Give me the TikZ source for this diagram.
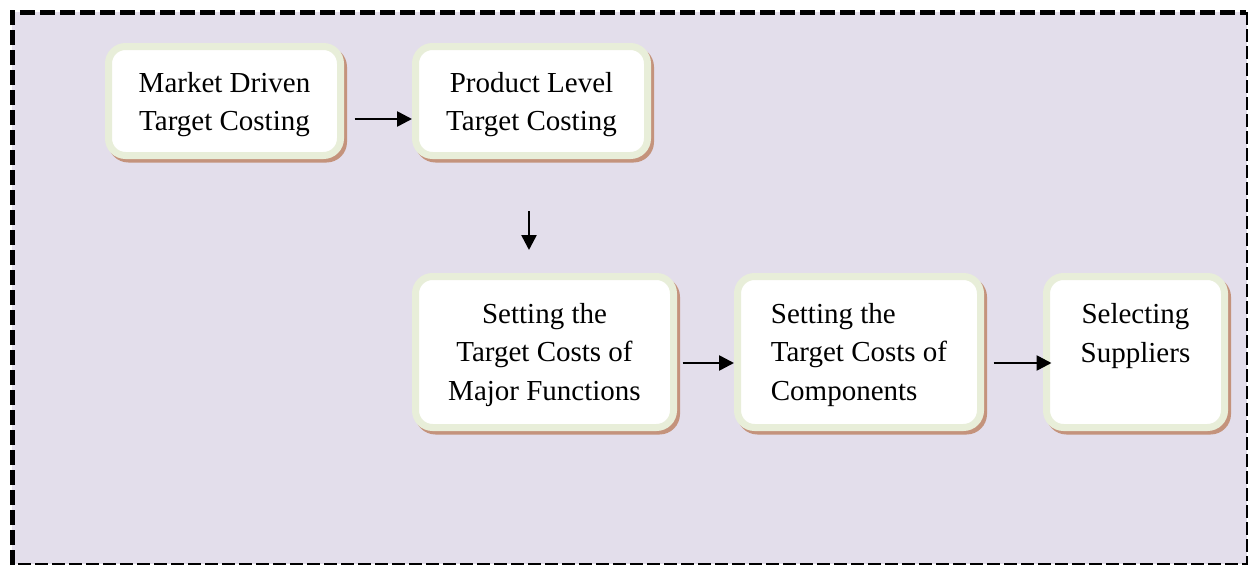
\documentclass[tikz,border=0pt]{standalone}
\usepackage{fontspec}
\setmainfont{Liberation Serif}
\usetikzlibrary{arrows.meta}
\definecolor{bgc}{HTML}{E3DEEB}
\definecolor{grc}{HTML}{E8EED9}
\definecolor{shc}{HTML}{C4937C}
\tikzset{
  stepbox/.style={draw=grc, line width=7pt, fill=white, rounded corners=17pt,
    preaction={draw=shc, fill=shc, transform canvas={shift={(3pt,-3.5pt)}}},
    inner sep=0pt},
  steptext/.style={inner sep=0pt, font=\fontsize{29}{38.5}\selectfont},
  arr/.style={line width=2.6pt, -{Triangle[length=15pt,width=15pt]}}
}
\begin{document}
\begin{tikzpicture}[x=1pt,y=-1pt]
\useasboundingbox (0,0) rectangle (1248,565);
\fill[bgc] (12,12) rectangle (1246.5,563.5);
\draw[line width=1.8pt, dash pattern=on 13pt off 4pt] (1247,12) -- (1247,563.6) -- (12,563.6);
\draw[line width=5.5pt, dash pattern=on 15pt off 5pt] (12.3,565) -- (12.3,12.5) -- (1246,12.5);

\node[stepbox, minimum width=232pt, minimum height=109pt] (b1) at (224.5,101) {};
\node[stepbox, minimum width=232pt, minimum height=109pt] (b2) at (531.5,101) {};
\node[stepbox, minimum width=258pt, minimum height=151pt] (b3) at (544.5,352) {};
\node[stepbox, minimum width=243pt, minimum height=151pt] (b4) at (859,352) {};
\node[stepbox, minimum width=178pt, minimum height=151pt] (b5) at (1135.5,352) {};

\node[steptext, align=center] (t1) at ([yshift=-3.5pt]b1.center) {Market Driven\\Target Costing};
\node[steptext, align=center] (t2) at ([yshift=-3.5pt]b2.center) {Product Level\\Target Costing};
\node[steptext, align=center] (t3) at ([yshift=-3pt]b3.center) {Setting the\\Target Costs of\\Major Functions};
\node[steptext, align=left] (t4) at ([yshift=-3pt]b4.center) {Setting the\\Target Costs of\\Components};
\node[steptext, align=center] (t5) at ([yshift=-6pt]b5.center) {Selecting\\Suppliers\\\strut};

\draw[arr] ([xshift=10.5pt,yshift=-18pt]b1.east) -- ([yshift=-18pt]b2.west);
\coordinate (v1) at ([xshift=-2.5pt,yshift=-52pt]b2.south);
\coordinate (v2) at ([xshift=-15.5pt,yshift=23pt]b3.north);
\draw[arr] (v1) -- (v1 |- v2);
\draw[arr] ([xshift=5.5pt,yshift=-11pt]b3.east) -- ([yshift=-11pt]b4.west);
\draw[arr] ([xshift=9.5pt,yshift=-11pt]b4.east) -- ([xshift=8.5pt,yshift=-11pt]b5.west);
\end{tikzpicture}
\end{document}
